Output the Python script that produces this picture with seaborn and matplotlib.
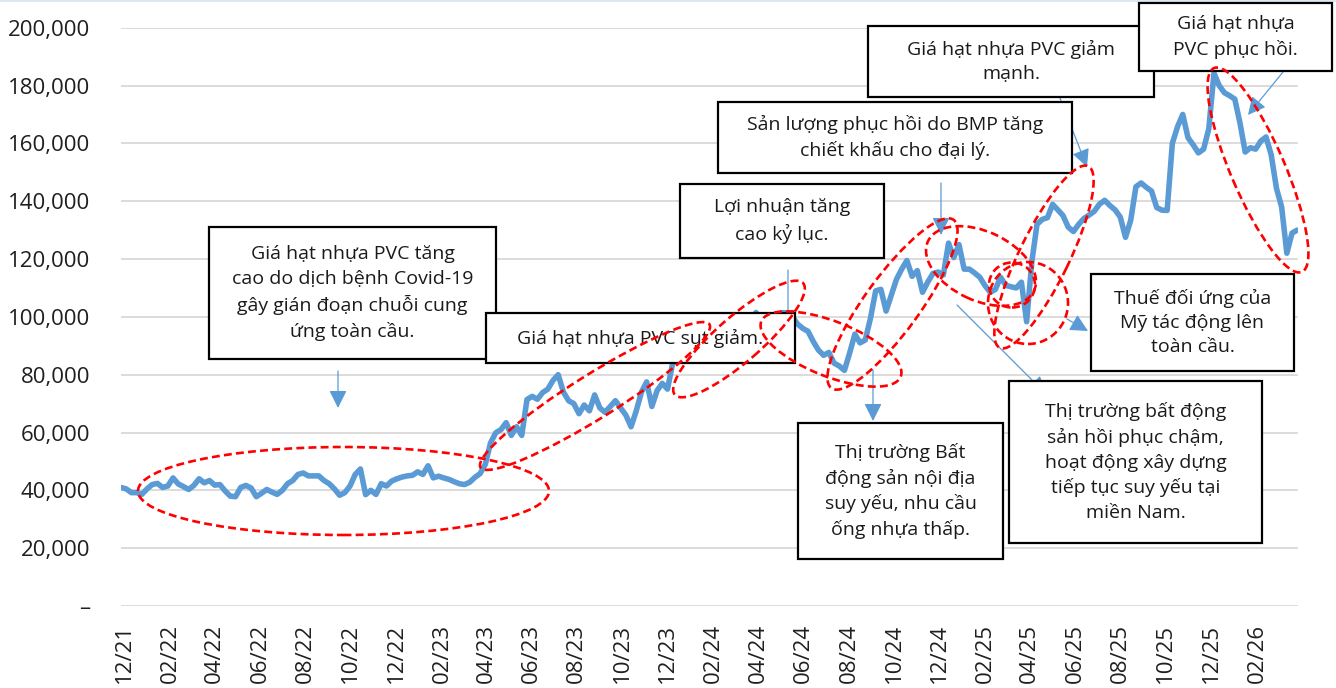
import numpy as np
import pandas as pd
import matplotlib
matplotlib.use("Agg")
import matplotlib.pyplot as plt
import matplotlib.dates as mdates
from matplotlib.patches import Ellipse, Rectangle, FancyArrowPatch
from matplotlib.ticker import FuncFormatter, MultipleLocator
import seaborn as sns

# weekly closing price (thousand VND), from 26/11/2021
price_k = [
    41, 40.5, 39.2, 39.2, 38.6, 40.5, 42, 42.4, 41, 41.5,
    44.3, 42.2, 41.3, 40.3, 41.7, 44, 42.6, 43.4, 41.8, 42,
    39.8, 38, 37.8, 41, 41.7, 40.8, 37.8, 39, 40.3, 39.4,
    38.6, 40, 42.3, 43.4, 45.5, 46, 45, 45, 45, 43.4,
    42.3, 40.5, 38.3, 39.2, 41.5, 45.5, 47.4, 38.5, 40, 38.6,
    42.3, 41.5, 43.2, 44, 44.6, 45, 45.2, 46.4, 45.5, 48.5,
    44.3, 44.9, 44.3, 43.8, 43, 42.3, 42, 42.8, 44.5, 45.8,
    49, 56.4, 59.9, 61, 63.4, 59, 62, 59, 71.4, 72.5,
    71.5, 73.8, 75, 78, 80, 74, 71, 70, 66.5, 69.5,
    67.5, 73, 68.5, 67, 69, 71, 68.5, 66, 62, 67.5,
    74, 77.5, 69, 74.5, 77, 75, 84, 86, 88, 90,
    89, 91, 93, 92, 94, 95, 93, 95, 96, 97,
    96, 98, 101.5, 99, 97, 98, 99, 100.5, 100.3, 100,
    97.5, 96, 95, 91.5, 88.5, 86.7, 87.7, 84, 83, 81.5,
    87.5, 94, 91, 92, 99.5, 109, 109.5, 102, 107.5, 113,
    116.5, 119.5, 114, 116, 108.5, 112, 115, 115.5, 114.5, 125.5,
    120.5, 125, 116.5, 116.5, 115.2, 113.7, 110.8, 108.5, 109.5, 113.7,
    110.9, 110.4, 110, 112, 98.3, 119, 132, 133.7, 134.3, 138.9,
    137, 135, 131, 129.5, 132, 134, 135.2, 136.5, 139, 140.3,
    138.5, 137, 134.5, 127.5, 133.4, 145, 146.3, 144.8, 143.5, 137.8,
    136.9, 136.8, 160, 165.8, 170, 162, 159.5, 156.7, 158, 165,
    184.3, 180, 177.5, 176.5, 175.3, 167, 157, 158.5, 158, 160.8,
    162.2, 156, 144.5, 138, 122, 129, 130,
]
dates = pd.date_range("2021-11-26", periods=len(price_k), freq="7D")
df = pd.DataFrame({"date": dates, "price": np.array(price_k) * 1000})

notes = [
    "Giá hạt nhựa PVC tăng\ncao do dịch bệnh Covid-19\ngây gián đoạn chuỗi cung\nứng toàn cầu.",
    "Giá hạt nhựa PVC sụt giảm.",
    "Lợi nhuận tăng\ncao kỷ lục.",
    "Sản lượng phục hồi do BMP tăng\nchiết khấu cho đại lý.",
    "Giá hạt nhựa PVC giảm\nmạnh.",
    "Giá hạt nhựa\nPVC phục hồi.",
    "Thuế đối ứng của\nMỹ tác động lên\ntoàn cầu.",
    "Thị trường Bất\nđộng sản nội địa\nsuy yếu, nhu cầu\nống nhựa thấp.",
    "Thị trường bất động\nsản hồi phục chậm,\nhoạt động xây dựng\ntiếp tục suy yếu tại\nmiền Nam.",
]
# box edges in pixels (left, top, right, bottom)
note_boxes = [
    (209, 227, 496, 359),
    (486, 313, 795, 363),
    (680, 184, 884, 258),
    (718, 102, 1072, 173),
    (868, 26, 1154, 97),
    (1139, 3, 1332, 71),
    (1091, 274, 1294, 371),
    (798, 423, 1003, 559),
    (1009, 381, 1262, 543),
]
# arrows: start -> tip, pixels
arrows = [
    ((338, 371), (338, 408)),
    ((788, 270), (788, 327)),
    ((873, 370), (873, 421)),
    ((941, 183), (941, 235)),
    ((1058, 93), (1087, 167)),
    ((1283, 72), (1248, 115)),
    ((1067, 319), (1088, 331)),
    ((957, 305), (1046, 394)),
]
# red ellipses: cx, cy, width, height, angle (pixels)
rings = [
    (343.5, 491, 411, 88, 0),
    (595, 396, 270, 44, 32),
    (739, 339, 170, 45, 41),
    (831, 349, 150, 55, -21.6),
    (892.5, 304, 208, 55, 54),
    (981, 266, 117, 69, -25),
    (1012, 285, 46, 45, 0),
    (1028, 303, 80, 82, 0),
    (1044, 257, 202, 50, 64),
    (1258, 170, 222, 54, -66.7),
]

sns.set_style("white")
plt.rcParams["font.family"] = ["Open Sans", "DejaVu Sans"]

W, H = 1336, 688
fig = plt.figure(figsize=(W / 100, H / 100), dpi=100)
ax = fig.add_axes([121 / W, (H - 606) / H, 1177 / W, 578.3 / H])


def P(x, y):
    return (x / 100, (H - y) / 100)


sns.lineplot(data=df, x="date", y="price", ax=ax, color="#5B9BD5",
             linewidth=4, solid_joinstyle="round")

ax.set_xlim(pd.Timestamp("2021-11-26"), pd.Timestamp("2026-03-28"))
ax.set_ylim(0, 200000)
ax.yaxis.set_major_locator(MultipleLocator(20000))
ax.yaxis.set_major_formatter(FuncFormatter(lambda v, p: "–" if v == 0 else f"{v:,.0f}"))
ax.xaxis.set_major_locator(mdates.MonthLocator(bymonth=(2, 4, 6, 8, 10, 12)))
ax.xaxis.set_major_formatter(mdates.DateFormatter("%m/%y"))
ax.grid(axis="y", color="#d9d9d9", linewidth=1.3)
ax.grid(axis="x", visible=False)
for s in ax.spines.values():
    s.set_visible(False)
ax.set_xlabel("")
ax.set_ylabel("")
ax.tick_params(axis="y", length=0, pad=22, labelsize=16, labelcolor="#1f1f1f")
ax.tick_params(axis="x", length=0, pad=13, labelsize=16, labelcolor="#1f1f1f",
               labelrotation=90)

T = fig.dpi_scale_trans
fig.add_artist(Rectangle((0, (H - 2) / 100), W / 100, 0.02, transform=T,
                         fc="#dde7f2", ec="none", zorder=0))

for (a, b) in arrows:
    fig.add_artist(FancyArrowPatch(P(*a), P(*b), transform=T,
                                   arrowstyle="-|>,head_length=0.6,head_width=0.3",
                                   mutation_scale=18, color="#5B9BD5", lw=0.9,
                                   shrinkA=0, shrinkB=0, zorder=4))

for txt, (x0, y0, x1, y1) in zip(notes, note_boxes):
    fig.add_artist(Rectangle(P(x0, y1), (x1 - x0) / 100, (y1 - y0) / 100,
                             transform=T, fc="white", ec="black", lw=1.6, zorder=5))
    fig.text(*P((x0 + x1) / 2, (y0 + y1) / 2), txt, transform=T, ha="center",
             va="center", fontsize=14, linespacing=1.45, color="#1a1a1a", zorder=6)

for (cx, cy, w, h, ang) in rings:
    fig.add_artist(Ellipse(P(cx, cy), w / 100, h / 100, angle=ang, transform=T,
                           fill=False, ec="#FF0000", lw=1.9,
                           linestyle=(0, (3, 1.6)), zorder=7))

fig.savefig("out.png", dpi=100)
